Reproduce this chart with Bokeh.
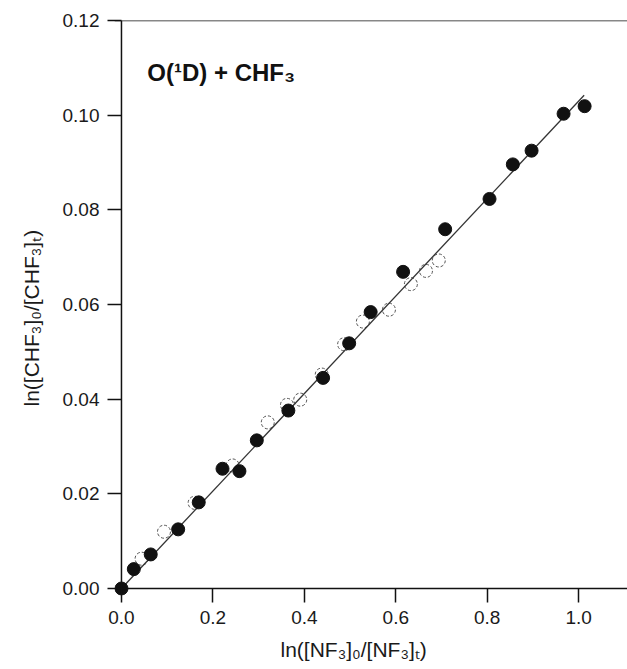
from bokeh.plotting import figure
from bokeh.models import (Range1d, FixedTicker, NumeralTickFormatter, Label, Span, Title)
from bokeh.embed import file_html
from bokeh.resources import INLINE

# ---- data ----
filled_x = [0.0, 0.027, 0.064, 0.124, 0.169, 0.221, 0.258, 0.296, 0.365, 0.441,
            0.498, 0.545, 0.616, 0.708, 0.805, 0.856, 0.897, 0.967, 1.013]
filled_y = [0.0, 0.0041, 0.0072, 0.0125, 0.0182, 0.0253, 0.0248, 0.0313, 0.0376, 0.0445,
            0.0518, 0.0584, 0.0669, 0.0759, 0.0823, 0.0896, 0.0925, 0.1003, 0.1019]

open_x = [0.044, 0.093, 0.160, 0.243, 0.320, 0.362, 0.391, 0.438, 0.487, 0.528,
          0.585, 0.633, 0.666, 0.694]
open_y = [0.0063, 0.0120, 0.0181, 0.0260, 0.0351, 0.0388, 0.0399, 0.0452, 0.0516, 0.0564,
          0.0589, 0.0643, 0.0671, 0.0693]

fit_x = [0.0, 1.012]
fit_y = [0.0, 0.1042]

x_ticks = [0.0, 0.2, 0.4, 0.6, 0.8, 1.0]
y_ticks = [0.0, 0.02, 0.04, 0.06, 0.08, 0.10, 0.12]

title_text = "O(\u00b9D) + CHF\u2083"
x_label = "ln([NF\u2083]\u2080/[NF\u2083]\u209c)"
y_label = "ln([CHF\u2083]\u2080/[CHF\u2083]\u209c)"

FONT = "Liberation Sans"
INK = "#111111"

# small margin below/left of zero so the origin marker is not clipped;
# the axis lines themselves are drawn as spans at zero
p = figure(width=627, height=669, output_backend="svg", toolbar_location=None,
           x_range=Range1d(-0.01525, 1.1068), y_range=Range1d(-0.001475, 0.12),
           min_border_left=112, min_border_right=0, min_border_top=20,
           min_border_bottom=73)
p.outline_line_color = None
p.grid.visible = False
p.background_fill_color = "white"
p.border_fill_color = "white"

for ax, ticks, fmt in ((p.xaxis[0], x_ticks, "0.0"), (p.yaxis[0], y_ticks, "0.00")):
    ax.ticker = FixedTicker(ticks=ticks)
    ax.formatter = NumeralTickFormatter(format=fmt)
    ax.axis_line_color = None
    ax.major_tick_line_width = 1.5
    ax.major_tick_line_color = INK
    ax.major_tick_out = 7
    ax.major_tick_in = 7
    ax.minor_tick_out = 0
    ax.minor_tick_in = 0
    ax.major_label_text_font = FONT
    ax.major_label_text_font_size = "19px"
    ax.major_label_text_color = "#1a1a1a"
    ax.major_label_standoff = 8

# axis lines at zero and top border line
p.add_layout(Span(location=0.0, dimension="width", line_color=INK, line_width=1.5))
p.add_layout(Span(location=0.0, dimension="height", line_color=INK, line_width=1.5))
p.add_layout(Span(location=0.12, dimension="width", line_color=INK, line_width=1.5))

# open circles (drawn first)
p.scatter(open_x, open_y, size=13, marker="circle", fill_color=None,
          line_color="#555555", line_width=1, line_dash="3 2")
# fit line
p.line(fit_x, fit_y, line_color="#333333", line_width=1.3)
# filled circles
p.scatter(filled_x, filled_y, size=13, marker="circle", fill_color=INK,
          line_color=INK, line_width=1)

# title inside plot
p.add_layout(Label(x=0.0566, y=0.1118, text=title_text, text_font=FONT,
                   text_font_style="bold", text_font_size="24px", text_color=INK,
                   text_baseline="top", text_align="left"))

# axis labels as side titles
p.add_layout(Title(text=x_label, align="left", offset=166, standoff=18,
                   text_font=FONT, text_font_size="21px", text_font_style="normal",
                   text_color="#1a1a1a"), "below")
p.add_layout(Title(text=y_label, align="left", offset=189, standoff=34,
                   text_font=FONT, text_font_size="21px", text_font_style="normal",
                   text_color="#1a1a1a"), "left")

open("out.html", "w").write(file_html(p, INLINE))
